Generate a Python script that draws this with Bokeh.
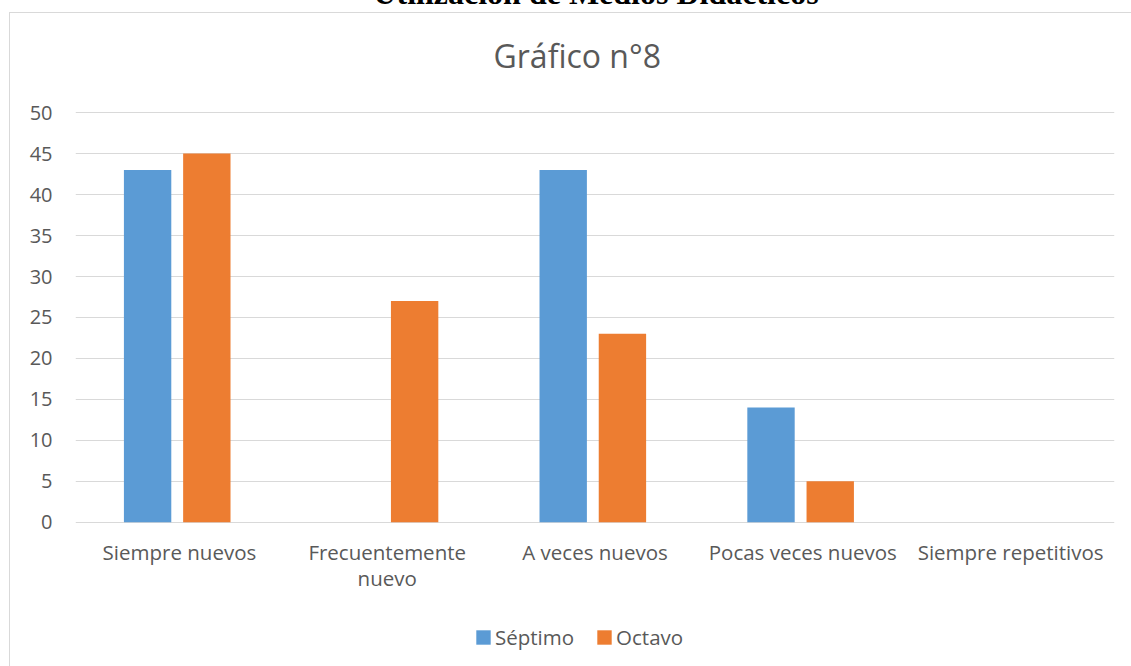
from bokeh.plotting import figure
from bokeh.models import (FactorRange, Range1d, FixedTicker, Legend, LegendItem,
                          ColumnDataSource, Div, Label)
from bokeh.core.properties import value
from bokeh.layouts import column
from bokeh.transform import dodge
from bokeh.embed import file_html
from bokeh.resources import INLINE

categories = ["Siempre nuevos", "Frecuentemente nuevo", "A veces nuevos",
              "Pocas veces nuevos", "Siempre repetitivos"]
septimo = [43, 0, 43, 14, 0]
octavo = [45, 27, 23, 5, 0]
series_names = ["Séptimo", "Octavo"]
y_ticks = [0, 5, 10, 15, 20, 25, 30, 35, 40, 45, 50]
chart_title = "Gráfico n°8"
doc_title = "Utilización de Medios Didácticos"

BLUE = "#5B9BD5"
ORANGE = "#ED7D31"
TXT = "#595959"
GRID = "#D9D9D9"
FONT = "Open Sans"

# wrapped display labels
factors = [c.replace("Frecuentemente ", "Frecuentemente\n") for c in categories]

# layout (window pixels)
OX, OY = 10, 13                # inner top-left of the bordered chart box
PX_L, PX_R = 75, 1113          # plot area left / right
PX_TOP, PX_ZERO = 112, 521     # y of value 50 and of value 0
WIN_W, WIN_H = 1131, 666

ymax = y_ticks[-1]
per_px = ymax / (PX_ZERO - PX_TOP)
y_start = -(WIN_H - PX_ZERO) * per_px
y_end = ymax + (PX_TOP - OY) * per_px

src = ColumnDataSource(dict(cat=factors, s=septimo, o=octavo))

p = figure(frame_width=PX_R - PX_L, frame_height=WIN_H - OY,
           x_range=FactorRange(*factors), y_range=Range1d(y_start, y_end),
           x_axis_location=None, title=None,
           output_backend="svg", toolbar_location=None,
           min_border_left=PX_L - OX, min_border_right=WIN_W - PX_R,
           min_border_top=0, min_border_bottom=0)
p.background_fill_color = "white"
p.border_fill_color = "white"
p.outline_line_color = None
p.margin = (0, 0, 0, OX - 1)
p.styles = {"border-left": f"1px solid {GRID}", "border-top": f"1px solid {GRID}"}

r1 = p.vbar(x=dodge("cat", -0.153, range=p.x_range), top="s", width=0.228, source=src,
            fill_color=BLUE, line_color=None)
r2 = p.vbar(x=dodge("cat", 0.132, range=p.x_range), top="o", width=0.228, source=src,
            fill_color=ORANGE, line_color=None)

p.yaxis.ticker = FixedTicker(ticks=y_ticks)
p.ygrid.ticker = FixedTicker(ticks=y_ticks)
p.ygrid.grid_line_color = GRID
p.ygrid.grid_line_width = 1
p.xgrid.visible = False
p.yaxis.major_tick_line_color = None
p.yaxis.minor_tick_line_color = None
p.yaxis.axis_line_color = None
p.yaxis.major_label_text_color = TXT
p.yaxis.major_label_text_font = FONT
p.yaxis.major_label_text_font_size = "20px"
p.yaxis.major_label_standoff = 17

# category labels under the zero line, placed with the categorical scale
p.text(x="cat", y=0, text="cat", source=src, y_offset=16,
       text_align="center", text_baseline="top", text_line_height=0.93,
       text_font=value(FONT), text_font_size="20.5px", text_color=TXT)

p.add_layout(Label(x=493 - PX_L, y=WIN_H - 54, x_units="screen", y_units="screen",
                   text=chart_title, text_align="left", text_baseline="alphabetic",
                   text_font=FONT, text_font_size="32px", text_color=TXT))

legend = Legend(items=[LegendItem(label=series_names[0], renderers=[r1]),
                       LegendItem(label=series_names[1], renderers=[r2])],
                orientation="horizontal", location=(474 - PX_L, 16.5),
                glyph_width=18, glyph_height=18, label_standoff=3, spacing=21,
                padding=0, margin=0, border_line_color=None, background_fill_alpha=0,
                label_text_font=FONT, label_text_font_size="20.5px", label_text_color=TXT)
p.add_layout(legend)

head = Div(text=(f'<div style="position:absolute; left:0; top:-23px; width:1192px; '
                 f'text-align:center; font-family:\'Liberation Serif\'; font-weight:bold; '
                 f'font-size:32px; line-height:32px; color:black; white-space:nowrap;">'
                 f'{doc_title}</div>'),
           width=WIN_W, height=OY - 1, margin=(0, 0, 0, 0),
           styles={"overflow": "hidden", "position": "relative"})

layout = column(head, p, spacing=0)
open("out.html", "w").write(file_html(layout, INLINE))
